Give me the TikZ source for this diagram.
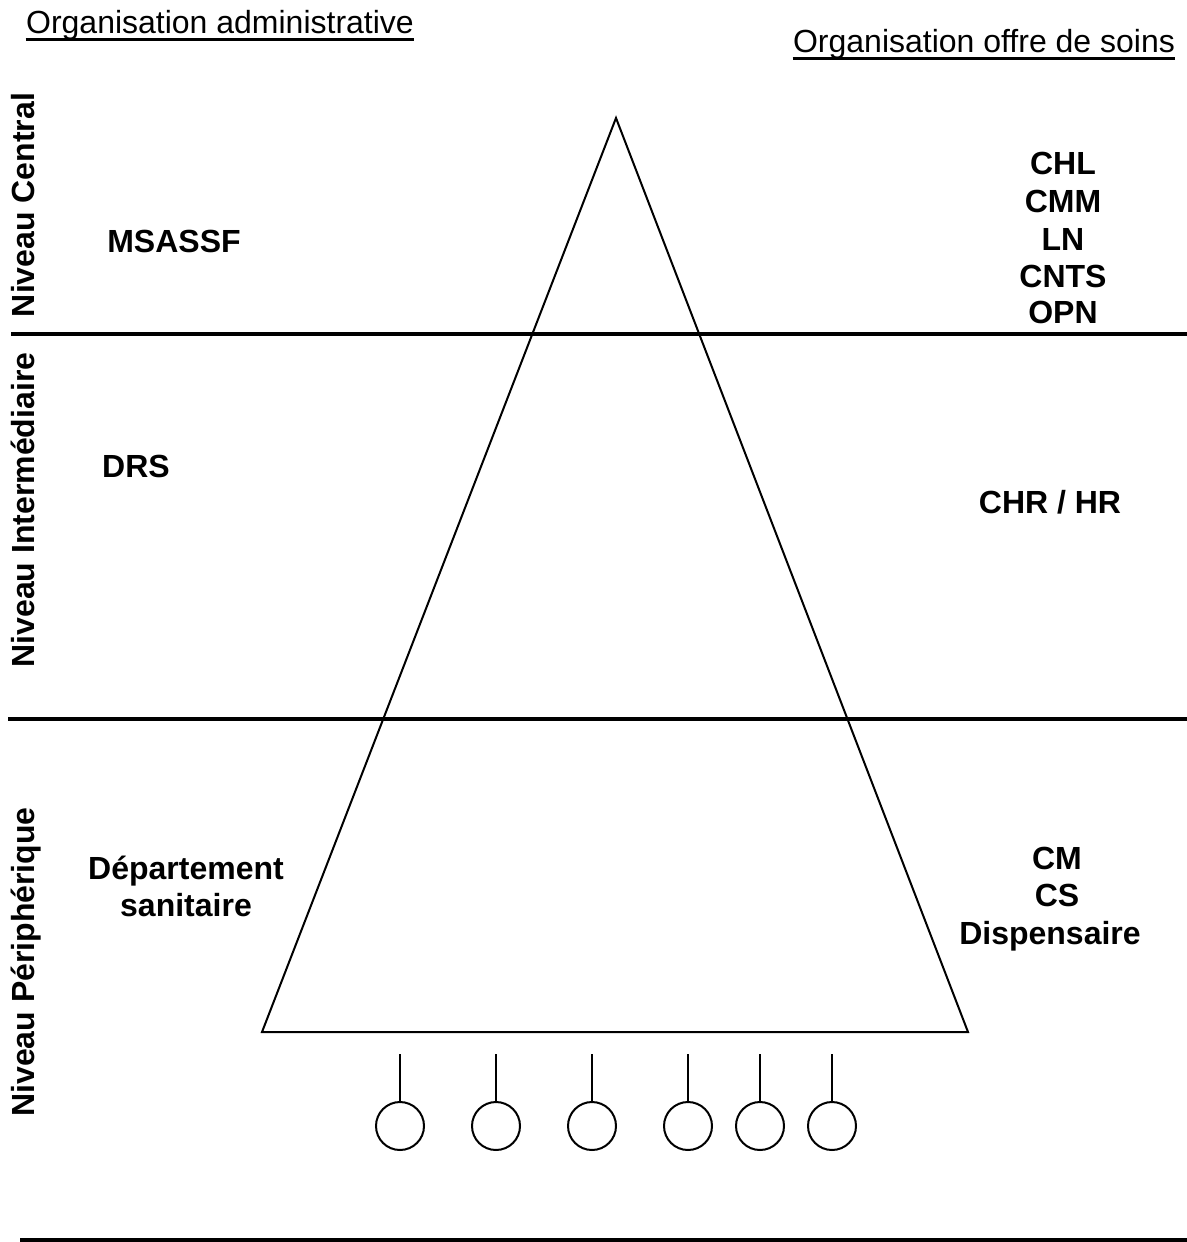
\documentclass[tikz,border=0pt]{standalone}
\usepackage{fontspec}
\setmainfont{Liberation Sans}
\begin{document}
\begin{tikzpicture}[x=0.5pt,y=-0.5pt,
  hdr/.style={font=\fontsize{16}{18.5}\selectfont, inner sep=0pt, anchor=base, text depth=0pt},
  lbl/.style={font=\fontsize{16}{18.5}\selectfont\bfseries, inner sep=0pt, anchor=base},
  lvl/.style={lbl, rotate=90},
  uline/.style={line width=1.3pt},
  sep/.style={line width=2pt},
  tri/.style={line width=1pt, line join=miter},
  site/.style={circle, draw, line width=1pt, minimum size=24pt, inner sep=0pt},
  stem/.style={line width=1pt}]
\useasboundingbox (0,0) rectangle (1187,1242);

% headers
\node[hdr] (hA) at (220,33) {Organisation administrative};
\node[hdr] (hO) at (984,52) {Organisation offre de soins};
\draw[uline] ([yshift=-3pt]hA.south west) -- ([yshift=-3pt]hA.south east);
\draw[uline] ([yshift=-3pt]hO.south west) -- ([yshift=-3pt]hO.south east);

% level separators
\coordinate (s1a) at (11,334);  \coordinate (s1b) at (1187,334);
\coordinate (s2a) at (8,719);   \coordinate (s2b) at (1187,719);
\coordinate (s3a) at (20,1240); \coordinate (s3b) at (1187,1240);
\draw[sep] (s1a) -- (s1b);
\draw[sep] (s2a) -- (s2b);
\draw[sep] (s3a) -- (s3b);

% level names
\node[lvl] (lC) at (34.5,205) {Niveau Central};
\node[lvl] (lI) at (34.5,510) {Niveau Intermédiaire};
\node[lvl] (lP) at (34.5,962) {Niveau Périphérique};

% pyramid
\coordinate (apex) at (616,118);
\coordinate (bl) at (262,1032);
\coordinate (br) at (968,1032);
\draw[tri] (apex) -- (bl) -- (br) -- cycle;

% administrative organisation
\node[lbl] (msassf) at (174,252.5) {MSASSF};
\node[lbl] (drs) at (136,477.5) {DRS};
\node[lbl] (dep1) at (186,879.5) {Département};
\node[lbl] (dep2) at (186,916.5) {sanitaire};

% care offer
\node[lbl] (chl) at (1063,174.5) {CHL};
\node[lbl] (cmm) at (1063,212.5) {CMM};
\node[lbl] (ln) at (1063,250.5) {LN};
\node[lbl] (cnts) at (1063,287.5) {CNTS};
\node[lbl] (opn) at (1063,323.5) {OPN};
\node[lbl] (chr) at (1050,513.5) {CHR / HR};
\node[lbl] (cm) at (1057,869.5) {CM};
\node[lbl] (cs) at (1057,906.5) {CS};
\node[lbl] (disp) at (1050,944.5) {Dispensaire};

% base sites
\foreach \i/\x in {1/400,2/496,3/592,4/688,5/760,6/832}{
  \coordinate (t\i) at (\x,1054);
  \node[site] (c\i) at (\x,1126) {};
  \draw[stem] (t\i) -- (c\i.north);
}
\end{tikzpicture}
\end{document}
